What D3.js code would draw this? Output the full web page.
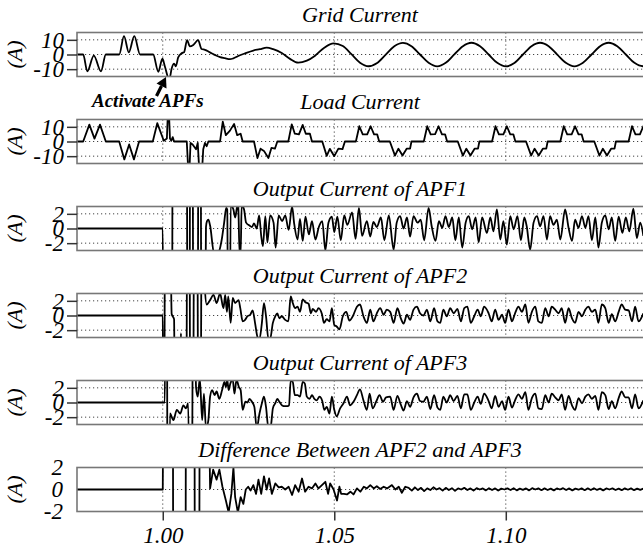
<!DOCTYPE html>
<meta charset="utf-8">
<style>
body {
    margin: 0;
    background: #fff;
}
text {
    font-family: 'Liberation Serif', 'Times New Roman', serif;
    font-style: italic;
    fill: #000;
}
.title {
    font-size: 22px;
}
.axis text {
    font-family: 'Liberation Serif', 'Times New Roman', serif;
    font-size: 23px;
    font-style: italic;
    fill: #000;
}
.axis line {
    stroke: #333;
    stroke-width: 1.5px;
}
.grid {
    stroke: #444;
    stroke-width: 1px;
    stroke-dasharray: 1.2, 2.8;
}
.frame {
    fill: none;
    stroke: #777;
    stroke-width: 1.6px;
}
.trace {
    fill: none;
    stroke: #000;
    stroke-width: 1.8px;
    stroke-linejoin: round;
}
.note {
    font-size: 19px;
    font-weight: bold;
}
</style>
<svg width="643" height="548"></svg>

<script src="https://cdn.jsdelivr.net/npm/d3@7"></script>
<script>
const xTicks = [1.00, 1.05, 1.10];
const bigTicks = [-10, 0, 10];
const smallTicks = [-2, 0, 2];
const titles = [
    'Grid Current',
    'Load Current',
    'Output Current of APF1',
    'Output Current of APF2',
    'Output Current of APF3',
    'Difference Between APF2 and APF3'
];

// all series: [time in ms after t = 1.00 s, current in A]
const gridCurrent = [
    [-25.1, 0], [-23.2, 0], [-22.0, -11.5], [-20.1, -0.7], [-18.0, -11.5], [-16.6, 0],
    [-12.7, 0], [-11.3, 12.5], [-9.9, 1.5], [-8.3, 12.5], [-6.6, 0], [-2.8, 0],
    [-1.3, -11.8], [-0.1, -2.9], [0.6, -8], [1.9, -17], [2.6, -9.5], [3.3, -6.2],
    [3.8, -8], [4.5, -2], [5.5, 0.9], [6.2, 1.5], [7.1, 9.8], [7.9, 5.5], [8.9, 6.5],
    [10.3, 9.8], [11.3, 3.8], [12.3, 3.2], [13.2, 2.2], [14.2, 0.8], [15.2, -0.3],
    [16.7, -1.8], [18.1, -2.5], [19.6, -3.2], [20.6, -2.6], [22.0, -1.0], [24.0, 0.8],
    [26.4, 2.7], [28.3, 3.6], [30.3, 4.7], [32.2, 3.6], [34.7, 1.0], [37.1, -3.0],
    [39.5, -5.6], [42.0, -4.2], [44.4, -0.8], [47.0, 4.5], [49.8, 7.6], [52.5, 5.8],
    [55.0, 0.2], [57.5, -5.6], [60.0, -8.0], [62.5, -5.8], [65.0, -0.1], [67.5, 5.6],
    [70.0, 7.9], [72.5, 5.7], [75.0, 0], [77.5, -5.7], [80.0, -8.1], [82.5, -5.7],
    [85.0, 0.1], [87.5, 5.7], [90.0, 8.0], [92.5, 5.6], [95.0, 0], [97.5, -5.7],
    [100.0, -8.1], [102.5, -5.8], [105.0, 0], [107.5, 5.7], [110.0, 8.0], [112.5, 5.7],
    [115.0, -0.1], [117.5, -5.7], [120.0, -8.1], [122.5, -5.7], [125.0, 0], [127.5, 5.7],
    [130.0, 8.0], [132.5, 5.6], [135.0, 0], [137.5, -5.7], [140.0, -8.0], [141.0, -7.8]
];

const loadCurrent = [
    [-25.1, 0], [-23.2, 0], [-21.4, 11.5], [-19.9, 2], [-18.3, 11.5], [-16.6, 0],
    [-12.7, 0], [-11.2, -12.2], [-9.8, -2], [-8.4, -12.2], [-6.9, 0], [-2.9, 0],
    [-1.6, 12.5], [0.3, 0.5], [1.2, 2], [1.5, 20], [1.8, 20], [2.1, 2], [2.5, 0.5],
    [2.9, 3], [3.3, 0], [7.0, 0], [7.4, -18], [7.8, -18], [8.1, -1], [8.7, -2],
    [9.7, -5.3], [10.2, -1], [10.6, -18], [11.5, -18], [11.8, -5.3], [12.3, -1],
    [12.8, -3.2], [13.3, 0],
    [16.7, 0], [17.5, 13.5], [18.4, 4.3], [19.6, 7.4], [20.8, 12], [21.7, 4.3], [22.7, 5.3],
    [23.3, 0], [26.6, 0], [27.6, -11.3], [28.5, -4.9], [29.5, -6.4], [30.8, -11.3],
    [31.7, -4.3], [32.7, -4.9], [33.4, 0],
    [36.6, 0], [37.6, 11.7], [38.5, 5.3], [39.7, 4.9], [40.8, 11.3], [41.7, 5.3], [42.9, 5.3],
    [43.5, 0], [46.5, 0], [47.8, -9.8], [48.7, -5.0], [50.0, -10], [51.2, -4.9],
    [52.4, -5.2], [53.1, 0],
    [56.3, 0], [57.3, 10.4], [58.3, 4.9], [59.6, 4.9], [60.6, 10.4], [61.6, 4.9], [62.5, 4.9],
    [63.1, 0], [66.2, 0], [67.7, -9.6], [68.7, -4.9], [69.9, -9.6], [71.1, -4.9],
    [72.1, -4.9], [72.5, 0],
    [76.1, 0], [77.1, 10.4], [78.1, 4.9], [79.4, 5.0], [80.4, 10.4], [81.4, 4.9], [82.3, 4.9],
    [82.9, 0], [86.0, 0], [87.5, -9.6], [88.5, -4.9], [89.7, -9.6], [90.9, -4.9],
    [91.9, -4.9], [92.3, 0],
    [96.0, 0], [97.0, 10.4], [98.0, 4.9], [99.3, 4.9], [100.3, 10.4], [101.3, 4.9], [102.2, 4.9],
    [102.8, 0], [105.9, 0], [107.4, -9.6], [108.4, -4.9], [109.6, -9.6], [110.8, -4.9],
    [111.8, -4.9], [112.2, 0],
    [115.9, 0], [116.9, 10.4], [117.9, 4.9], [119.2, 4.9], [120.2, 10.4], [121.2, 4.9], [122.1, 4.9],
    [122.7, 0], [125.8, 0], [127.3, -9.6], [128.3, -4.9], [129.5, -9.6], [130.7, -4.9],
    [131.7, -4.9], [132.1, 0],
    [135.8, 0], [136.8, 10.4], [137.8, 4.9], [139.1, 4.9], [140.1, 10.4], [141.0, 6]
];

const apf1Current = [
    [-25.1, 0], [0, 0], [0.2, -20], [2.7, -20], [2.9, 20], [7.0, 20], [7.2, -20], [7.8, -20],
    [8.0, 20], [8.7, 20], [8.9, -20], [10.2, -20], [10.4, 20], [11.0, 20], [11.3, -20],
    [12.2, -20], [12.6, 0.2], [12.9, 1.0], [13.3, 1.2], [13.8, 0.4], [15.0, -3.5],
    [16.2, -3.3], [17.2, -1.5], [17.9, 0.8], [18.5, 2.8], [18.8, 2.6], [19.1, -20],
    [19.5, -20], [19.8, 3.2], [20.6, 2.6], [21.1, 1.5], [21.8, 3.2], [22.0, 3.0],
    [22.4, -3.5], [22.7, -3.5], [23.0, 3.2], [23.7, 2.6], [24.3, 0.8], [25.3, 0.4],
    [26.0, 0.2], [26.6, 0.7], [27.4, 0], [28.1, 1.8], [28.7, -1], [29.2, -2.4], [29.9, 1.7],
    [30.5, -1.9], [31.3, 1.8], [32.3, 0.8], [32.9, -2.6], [33.8, 1.8], [34.8, 1], [35.7, 1.8],
    [36.7, -0.2], [37.7, 3.0], [38.3, 0.7], [39.3, -1.5], [40.0, 1.3], [40.8, -1.7],
    [41.6, 1.6], [42.6, -0.8], [43.5, 1.0], [44.5, -1.5], [45.5, 0.2], [46.5, 1.0],
    [47.4, -3.0], [48.3, 0.8], [49.3, 1.6], [50.0, -0.5], [50.9, 1.6], [51.9, -1.6],
    [52.9, 1.8], [53.8, 0.5], [55.2, 2.2], [56.2, -1.4], [57.2, 2.8], [58.1, -1.0],
    [59.5, 1.0], [60.5, -1.1], [61.4, 0.9], [62.4, 0.2], [63.6, 1.5], [64.6, -1.6],
    [65.9, 1.8], [67.3, -2.9], [68.2, 0.8], [69.2, 1.7], [70.2, 0], [71.2, 1.5], [72.1, -1.1],
    [73.1, 1.7], [74.3, 0.8], [75.2, 1.2], [76.2, -1.6], [77.5, 2.8], [78.4, 0.3],
    [79.5, -1.7], [80.5, 1.0], [81.5, 0.1], [82.4, 1.7], [83.4, 0.2], [84.4, 1.5],
    [85.3, -1.6], [86.3, 1.5], [87.3, -2.6], [88.3, 0.8], [89.2, 1.7], [90.2, -0.1],
    [91.2, 1.5], [92.1, -1.9], [93.1, 1.5], [94.5, -0.6], [95.5, 1.5], [96.4, -0.4],
    [97.4, 2.6], [98.4, -1.5], [99.3, 1.0], [100.3, -2.2], [101.3, 1.7], [102.3, -0.1],
    [103.4, 1.7], [104.4, -1.6], [105.4, 1.5], [106.1, 0.3], [107.1, -2.9], [108.1, 0.8],
    [109.1, 1.7], [110.0, 0.3], [111.0, 1.7], [112.0, -1.5], [112.9, 1.7], [113.9, 0.5],
    [114.9, 1.2], [115.9, -1.5], [117.3, 2.6], [118.3, 0.1], [119.3, -1.7], [120.2, 1.2],
    [121.2, 0.1], [122.2, 1.7], [123.2, 0.1], [124.1, 1.7], [125.1, -1.6], [126.1, 1.5],
    [127.0, -2.6], [128.0, 0.8], [129.0, 1.8], [130.0, -0.1], [130.9, 1.5], [131.9, -1.7],
    [132.9, 1.6], [134.0, -0.6], [135.0, 1.5], [136.0, -0.4], [137.2, 2.7], [138.2, -1.3],
    [139.2, 0.8], [140.1, -1.0]
];

const apf2Current = [
    [-25.1, 0], [0, 0], [0.2, -20], [0.4, -20], [0.7, 20], [2.0, 20], [2.6, 0.2], [3.3, -0.5],
    [3.6, -20], [5.0, -20], [5.3, -2.4], [5.6, -20], [6.8, -20], [7.2, 20], [7.8, 20],
    [8.0, -20], [8.8, -20], [9.2, 20], [10.0, 20], [10.4, -20], [11.0, -20], [11.4, 20],
    [12.0, 20], [12.3, 3.5], [12.8, 1.5], [13.8, 2.1], [14.8, 2.8], [15.7, 1.7], [16.7, 3.0],
    [17.7, 1.0], [18.2, 2.8], [18.7, 0.5], [19.1, 2.6], [19.8, -1.0], [20.4, 2.4], [21.1, 1.7],
    [22.1, 2.1], [22.6, 1.0], [23.3, -0.8], [24.0, -0.6], [24.7, -0.1], [25.5, 0.1],
    [26.2, 0.7], [26.9, -1.0], [27.6, -2.9], [28.2, -3.2], [28.9, -1.0], [29.5, 1.7],
    [30.1, -0.1], [30.8, -3.2], [31.3, -3.2], [32.1, -1.0], [32.8, -0.1], [33.4, 0.3],
    [34.0, -0.4], [34.7, -0.1], [35.7, -0.6], [36.6, -0.8], [37.3, 2.6], [37.9, 1.7],
    [38.6, 1.0], [39.3, 1.2], [40.0, 0.5], [40.8, 2.2], [41.6, 1.8], [42.5, 1.6], [43.2, 0.3],
    [43.7, 0.9], [44.7, 0.5], [45.4, 1.0], [46.4, 0.2], [47.0, -1.0], [47.8, -0.5],
    [48.6, -0.8], [49.3, 1.0], [50.0, -1.3], [50.7, -1.5], [51.5, -1.9], [52.5, -0.1],
    [53.5, 0.5], [54.4, -0.7], [55.4, -0.1], [56.6, 1.2], [57.5, 1.5], [58.5, -0.1],
    [59.5, -1.0], [60.5, 0.8], [61.4, -0.8], [62.4, 0.3], [63.4, 1.0], [64.4, 0.1],
    [65.3, 0.8], [66.3, 0.5], [67.3, -1.0], [68.4, 1.0], [69.4, -0.4], [70.2, -1.1],
    [71.2, 0.1], [72.1, -0.6], [73.1, 0.8], [74.1, 1.2], [75.0, 0.3], [76.0, 0], [77.0, 0.8],
    [78.0, -0.8], [79.1, 1.0], [80.1, -0.8], [80.9, -1.0], [81.8, 0.8], [82.8, -0.1],
    [83.8, 1.0], [84.8, 0.3], [85.9, 0.9], [86.9, -0.8], [87.9, 1.0], [88.8, 1.2],
    [89.8, -1.0], [90.8, -0.1], [91.8, 0.8], [92.7, -0.1], [93.7, 1.2], [95.0, 0.3],
    [95.9, -0.8], [96.9, 0.8], [97.9, -0.6], [98.9, 0.1], [99.8, -1.0], [100.8, 0.8],
    [101.8, -0.8], [102.7, 0.3], [103.7, 1.2], [104.7, 0.5], [105.7, 1.5], [106.6, -1.0],
    [107.6, 0.5], [108.6, 1.2], [109.5, -0.8], [110.5, -1.0], [111.5, 1.0], [112.5, -0.1],
    [113.4, 1.2], [114.4, 0.8], [115.4, 0.3], [116.3, 1.0], [117.3, -1.0], [118.3, 1.0],
    [119.3, -0.4], [120.2, -1.0], [121.2, 0.5], [122.2, -0.1], [123.2, 0.8], [124.1, 1.2],
    [125.1, 0.5], [126.1, 0.8], [127.0, -1.0], [128.0, 1.5], [129.0, 1.0], [130.0, -1.0],
    [130.9, 0.2], [131.9, -0.8], [132.9, 0.5], [133.8, 1.5], [134.8, 0.8], [135.8, 0.7],
    [136.8, -0.8], [137.7, 1.2], [138.7, -0.8], [140.1, 0.3]
];

const apf3Current = [
    [-25.1, 0], [0, 0], [0.6, 0], [0.8, 20], [1.2, 20], [1.4, -20], [1.8, -20], [2.1, -1.5],
    [3.1, -2.4], [4.1, -1.0], [5.1, -1.5], [6.0, -0.4], [6.8, -0.8], [7.4, -0.1], [8.0, -20],
    [8.4, -20], [8.9, 20], [9.2, 20], [9.7, 2.1], [10.2, 0.8], [10.8, 3.3], [11.5, -2.4],
    [12.0, 1.2], [12.6, -3.5], [13.3, -2.4], [13.8, 0.8], [14.4, 1.7], [15.1, 1.0],
    [15.7, 1.5], [16.5, 0.5], [17.3, 1.7], [18.0, 2.8], [18.4, 2.1], [18.8, 3.1], [19.2, 1.7],
    [19.7, 2.6], [20.4, 3.1], [20.9, 1.2], [21.5, 3.1], [22.2, 2.1], [22.7, 1.7], [23.3, -1.0],
    [24.1, 0.1], [24.7, 0], [25.3, 0.5], [26.0, 0.1], [26.7, -0.6], [27.4, -3.5], [28.2, -1.5],
    [28.9, -0.1], [29.5, 0.8], [30.1, -0.6], [30.8, -3.5], [31.5, -3.2], [32.1, -0.8],
    [32.8, -0.1], [33.4, 0.5], [34.0, 0.1], [34.8, -0.4], [35.6, -0.5], [36.4, -0.5],
    [36.8, -0.4], [37.3, 3.0], [37.9, 2.8], [38.5, 1.0], [39.3, 1.0], [40.0, 0.8], [40.8, 2.8],
    [41.4, 2.6], [42.0, 0.8], [42.8, 0.5], [43.5, 1.0], [44.2, 0.5], [44.9, 0.3], [45.7, 0.8],
    [46.5, 0.2], [47.1, -1.0], [47.8, -0.6], [48.6, -1.5], [49.3, 0.8], [50.0, -1.0],
    [50.7, -1.9], [51.7, -0.8], [52.7, -0.1], [53.7, 0.8], [54.6, -0.4], [55.6, 0.1],
    [56.6, 1.0], [57.5, 1.8], [58.5, 0.3], [59.5, -1.0], [60.3, 1.2], [61.2, -0.8], [62.2, 0.1],
    [63.2, 1.0], [64.2, 0.1], [65.1, 0.7], [66.3, 0.8], [67.3, -1.0], [68.4, 0.9], [69.4, -0.3],
    [70.2, -1.1], [71.2, 0.2], [72.1, -0.6], [73.1, 0.7], [74.1, 1.2], [75.0, 0.2], [76.0, 0.1],
    [77.0, 0.8], [78.0, -0.9], [79.1, 1.0], [80.1, -0.7], [80.9, -1.0], [81.8, 0.8], [82.8, 0],
    [83.8, 1.0], [84.8, 0.2], [85.9, 0.9], [86.9, -0.8], [87.9, 1.1], [88.8, 1.1], [89.8, -1.0],
    [90.8, 0], [91.8, 0.8], [92.7, -0.2], [93.7, 1.2], [95.0, 0.2], [95.9, -0.8], [96.9, 0.9],
    [97.9, -0.6], [98.9, 0.2], [99.8, -1.0], [100.8, 0.8], [101.8, -0.7], [102.7, 0.3],
    [103.7, 1.1], [104.7, 0.5], [105.7, 1.4], [106.6, -1.0], [107.6, 0.6], [108.6, 1.2],
    [109.5, -0.8], [110.5, -0.9], [111.5, 1.0], [112.5, 0], [113.4, 1.2], [114.4, 0.7],
    [115.4, 0.3], [116.3, 1.1], [117.3, -1.0], [118.3, 0.9], [119.3, -0.4], [120.2, -1.0],
    [121.2, 0.6], [122.2, -0.1], [123.2, 0.8], [124.1, 1.1], [125.1, 0.5], [126.1, 0.9],
    [127.0, -1.0], [128.0, 1.4], [129.0, 1.0], [130.0, -0.9], [130.9, 0.2], [131.9, -0.8],
    [132.9, 0.6], [133.8, 1.5], [134.8, 0.7], [135.8, 0.7], [136.8, -0.8], [137.7, 1.1],
    [138.7, -0.8], [140.1, 0.3]
];

const apfDiff = [
    [-25.1, 0], [0, 0], [0.35, 20], [2.9, 20], [3.1, -20], [6.6, -20], [6.8, 20], [9.2, 20],
    [9.4, -20], [10.6, -20], [10.8, 20], [12.9, 20], [13.8, 0.1], [14.7, 1.8], [15.7, 0.9],
    [16.5, 1.8], [17.4, 0.25], [18.4, -1.0], [19.2, -2.1], [20.0, -0.4], [20.6, 2.0],
    [21.1, -0.7], [21.9, -2.1], [22.7, -0.7], [23.5, -1.3], [24.2, 0], [24.9, 0.25],
    [25.6, -0.1], [26.4, 0.4], [27.2, -0.4], [27.9, 0.9], [28.7, -0.4], [29.5, 1.2], [30.3, 0],
    [31.0, 1.0], [31.8, -0.4], [32.8, 0.55], [33.8, 0.2], [34.7, 0.25], [35.7, 0], [36.7, 0.25],
    [37.7, -0.5], [38.6, 0.4], [39.6, -0.2], [40.6, 1.0], [41.5, -0.2], [42.5, 0.25],
    [43.5, 0.1], [44.5, 0.55], [45.4, 0.1], [46.4, 0.4], [47.4, 0.7], [48.2, -0.4],
    [48.8, 0.55], [49.8, 0], [50.8, -1.0], [51.5, 0.25], [52.0, -0.4], [52.8, -0.4],
    [53.7, -0.45], [54.7, -0.2], [55.6, -0.45], [56.6, 0.1], [57.6, -0.2], [58.6, 0.25],
    [59.5, 0.1], [60.5, 0.4], [61.5, 0.1], [62.4, 0.3], [63.4, 0.05], [64.4, 0.25],
    [65.4, 0.1], [66.8, 0.4], [67.8, 0], [68.8, 0.25], [69.7, -0.3], [70.7, 0.25],
    [71.7, 0.15], [72.6, -0.1], [73.5, 0.2], [74.4, -0.05], [75.3, 0.15], [76.2, -0.15],
    [77.1, 0.1], [78.0, -0.05], [78.9, 0.2], [79.8, 0], [80.7, 0.12], [81.6, -0.1],
    [82.5, 0.15], [83.4, -0.05], [84.3, 0.12], [85.2, -0.12], [86.1, 0.1], [87.0, 0],
    [87.9, 0.15], [88.8, -0.05], [89.7, 0.1], [90.6, -0.1], [91.5, 0.12], [92.4, 0],
    [93.3, 0.1], [94.2, -0.08], [95.1, 0.12], [96.0, -0.05], [96.9, 0.1], [97.8, -0.1],
    [98.7, 0.08], [99.6, 0], [100.5, 0.1], [101.4, -0.05], [102.3, 0.12], [103.2, -0.08],
    [104.1, 0.08], [105.0, -0.03], [105.9, 0.1], [106.8, -0.08], [107.7, 0.12], [108.6, 0],
    [109.5, 0.1], [110.4, -0.06], [111.3, 0.1], [112.2, -0.05], [113.1, 0.08], [114.0, -0.08],
    [114.9, 0.1], [115.8, 0], [116.7, 0.12], [117.6, -0.05], [118.5, 0.1], [119.4, -0.08],
    [120.3, 0.08], [121.2, -0.02], [122.1, 0.1], [123.0, -0.06], [123.9, 0.1], [124.8, -0.05],
    [125.7, 0.12], [126.6, -0.04], [127.5, 0.08], [128.4, -0.08], [129.3, 0.1], [130.2, 0],
    [131.1, 0.1], [132.0, -0.05], [132.9, 0.08], [133.8, -0.06], [134.7, 0.1], [135.6, -0.02],
    [136.5, 0.1], [137.4, -0.06], [138.3, 0.08], [139.2, -0.04], [140.1, 0.08]
];

const panels = [
    {title: titles[0], data: gridCurrent, lim: 15, ticks: bigTicks, curve: d3.curveMonotoneX},
    {title: titles[1], data: loadCurrent, lim: 15, ticks: bigTicks, curve: d3.curveLinear},
    {title: titles[2], data: apf1Current, lim: 3, ticks: smallTicks, curve: d3.curveMonotoneX},
    {title: titles[3], data: apf2Current, lim: 3, ticks: smallTicks, curve: d3.curveMonotoneX},
    {title: titles[4], data: apf3Current, lim: 3, ticks: smallTicks, curve: d3.curveMonotoneX},
    {title: titles[5], data: apfDiff, lim: 2, ticks: smallTicks, curve: d3.curveLinear, last: true}
];

let svg = d3.select('svg');
let left = 77, right = 643, top0 = 32.5, step = 87, ph = 44;

let x = d3.scaleLinear()
    .domain([0.975, 1.14])
    .range([left, right]);

panels.forEach((p, i) => {
    let y0 = top0 + step * i;
    let y = d3.scaleLinear()
        .domain([-p.lim, p.lim])
        .range([y0 + ph, y0]);

    let g = svg.append('g');

    g.append('clipPath').attr('id', 'clip' + i)
        .append('rect')
        .attr('x', left).attr('y', y0)
        .attr('width', right - left + 3).attr('height', ph);

    g.append('rect')
        .attr('x', left).attr('y', y0)
        .attr('width', right - left + 3).attr('height', ph)
        .attr('fill', '#fff');

    // dotted grid
    g.selectAll('.hgrid')
        .data(p.ticks.filter(t => Math.abs(t) < p.lim))
        .enter().append('line')
            .attr('class', 'grid')
            .attr('x1', left).attr('x2', right + 3)
            .attr('y1', d => y(d)).attr('y2', d => y(d));
    g.selectAll('.vgrid')
        .data(xTicks)
        .enter().append('line')
            .attr('class', 'grid')
            .attr('x1', d => x(d)).attr('x2', d => x(d))
            .attr('y1', y0).attr('y2', y0 + ph);

    let line = d3.line()
        .x(d => x(1 + d[0] / 1000))
        .y(d => y(d[1]))
        .curve(p.curve);

    g.append('path')
        .datum(p.data)
        .attr('class', 'trace')
        .attr('clip-path', 'url(#clip' + i + ')')
        .attr('d', line);

    g.append('rect')
        .attr('class', 'frame')
        .attr('x', left).attr('y', y0)
        .attr('width', right - left + 3).attr('height', ph);

    let yAxis = g.append('g').attr('class', 'axis')
        .attr('transform', `translate(${left},0)`)
        .call(d3.axisLeft(y)
            .tickValues(p.ticks)
            .tickFormat(d => d)
            .tickSize(p.last ? 0 : 10)
            .tickPadding(p.last ? 14 : 3));
    yAxis.select('.domain').remove();

    g.append('text')
        .attr('class', 'title')
        .attr('transform', `translate(22,${y0 + ph / 2}) rotate(-90)`)
        .attr('text-anchor', 'middle')
        .text('(A)');

    g.append('text')
        .attr('class', 'title')
        .attr('x', (left + right) / 2)
        .attr('y', y0 - 10.5)
        .attr('text-anchor', 'middle')
        .text(p.title);

    if (p.last) {
        let xAxis = g.append('g').attr('class', 'axis')
            .attr('transform', `translate(0,${y0 + ph})`)
            .call(d3.axisBottom(x)
                .tickValues(xTicks)
                .tickFormat(d3.format('.2f'))
                .tickSize(9)
                .tickPadding(6));
        xAxis.select('.domain').remove();
    }
});

// annotation for the activation instant
svg.append('text')
    .attr('class', 'note')
    .attr('x', 92).attr('y', 106.5)
    .text('Activate APFs');

svg.append('line')
    .attr('x1', 156.5).attr('y1', 96)
    .attr('x2', 161.5).attr('y2', 86)
    .attr('stroke', '#000')
    .attr('stroke-width', 3.2);

svg.append('path')
    .attr('d', 'M166,77 L166.5,88.5 L156.5,83.5 Z')
    .attr('fill', '#000');
</script>
